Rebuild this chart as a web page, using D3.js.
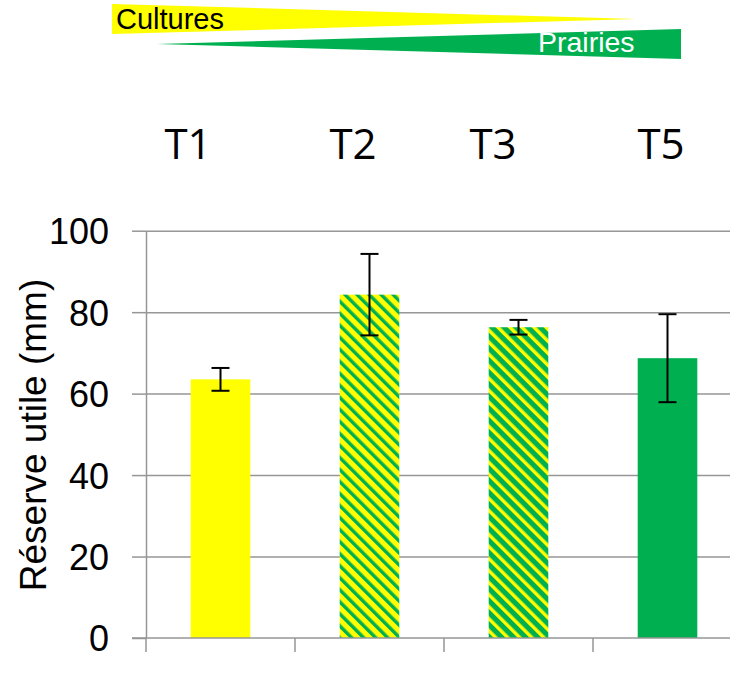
<!DOCTYPE html>
<html lang="fr">
<head>
    <meta charset="UTF-8">
    <title>Réserve utile</title>
    <script src="https://d3js.org/d3.v7.min.js"></script>
</head>
<style>
    body { margin: 0; background: white; }
    text { font-family: "Liberation Sans", Arial, sans-serif; }
</style>
<body>
<svg id="main" width="730" height="675"></svg>
<script>
    // data
    const treatments = ['T1', 'T2', 'T3', 'T5'];
    const reserve = [63.5, 84.3, 76.3, 68.7];
    const errors = [2.8, 10.0, 1.8, 10.8];
    const fills = ['yellow', 'hatchY', 'hatchG', 'green'];
    const yTicks = [0, 20, 40, 60, 80, 100];

    const YELLOW = '#ffff00', GREEN = '#00b050', GRID = '#969696';

    let svg = d3.select('svg#main');
    let plotLeft = 146, plotRight = 742, plotTop = 230.7, plotBottom = 638;

    // hatched fills
    let defs = svg.append('defs');
    function hatch(id, bg, fg, w) {
        let s = 8.5;
        let p = defs.append('pattern')
            .attr('id', id)
            .attr('patternUnits', 'userSpaceOnUse')
            .attr('width', s).attr('height', s)
            .attr('patternTransform', 'rotate(-45)');
        p.append('rect').attr('width', s).attr('height', s).attr('fill', bg);
        p.append('rect').attr('width', w).attr('height', s).attr('fill', fg);
    }
    hatch('hatchY', YELLOW, GREEN, 3.4);
    hatch('hatchG', GREEN, YELLOW, 3.4);

    function fillOf(f) {
        if (f === 'yellow') return YELLOW;
        if (f === 'green') return GREEN;
        return 'url(#' + f + ')';
    }

    // top banner: Cultures -> Prairies
    svg.append('polygon')
        .attr('points', '112,4 112,34 636,19')
        .attr('fill', YELLOW);
    svg.append('polygon')
        .attr('points', '157,44 681,29 681,59')
        .attr('fill', GREEN);
    svg.append('text').text('Cultures')
        .attr('x', 116).attr('y', 29)
        .attr('font-size', 29).attr('fill', 'black');
    svg.append('text').text('Prairies')
        .attr('x', 538).attr('y', 52)
        .attr('font-size', 28.5).attr('fill', 'white');

    // treatment headers
    const headerX = [188, 353, 493, 661];
    svg.selectAll('.head').data(treatments)
        .enter().append('text')
        .attr('class', 'head')
        .attr('x', (d, i) => headerX[i])
        .attr('y', 159)
        .attr('text-anchor', 'middle')
        .style('font-family', '"Open Sans", sans-serif')
        .attr('font-size', 42)
        .text(d => d);

    let x = d3.scaleBand()
        .domain(treatments)
        .range([plotLeft, plotRight])
        .paddingInner(0.6)
        .paddingOuter(0.3);

    let y = d3.scaleLinear()
        .domain([0, 100])
        .range([plotBottom, plotTop]);

    // gridlines
    svg.append('g')
        .attr('transform', 'translate(' + plotLeft + ',0)')
        .call(d3.axisLeft(y).tickValues(yTicks.slice(1)).tickSize(-(plotRight - plotLeft)).tickFormat(''))
        .call(g => g.select('.domain').remove())
        .call(g => g.selectAll('line').attr('stroke', GRID).attr('stroke-width', 1.5));

    // y axis
    svg.append('g')
        .attr('transform', 'translate(' + plotLeft + ',0)')
        .call(d3.axisLeft(y).tickValues(yTicks).tickSize(14).tickPadding(23).tickSizeOuter(0))
        .call(g => g.select('.domain').attr('stroke', GRID).attr('stroke-width', 1.5))
        .call(g => g.selectAll('line').attr('stroke', GRID).attr('stroke-width', 1.5))
        .call(g => g.selectAll('text')
            .attr('font-size', 36)
            .attr('fill', 'black')
            .style('font-family', '"Liberation Sans", Arial, sans-serif')
            .attr('dy', '0.36em'));

    svg.append('text')
        .text('Réserve utile (mm)')
        .attr('transform', 'translate(46,435) rotate(-90)')
        .attr('text-anchor', 'middle')
        .attr('font-size', 37);

    // bars
    svg.selectAll('.bar').data(reserve)
        .enter().append('rect')
        .attr('class', 'bar')
        .attr('x', (d, i) => x(treatments[i]))
        .attr('width', x.bandwidth())
        .attr('y', d => y(d))
        .attr('height', d => y(0) - y(d))
        .attr('fill', (d, i) => fillOf(fills[i]));

    // x axis: baseline and ticks between categories
    let bounds = treatments.map(t => x(t) - x.step() * x.paddingInner() / 2);
    bounds[0] = plotLeft;
    svg.append('line')
        .attr('x1', plotLeft - 14).attr('x2', plotRight)
        .attr('y1', y(0)).attr('y2', y(0))
        .attr('stroke', GRID).attr('stroke-width', 1.5);
    svg.selectAll('.xtick').data(bounds)
        .enter().append('line')
        .attr('class', 'xtick')
        .attr('x1', d => d).attr('x2', d => d)
        .attr('y1', y(0)).attr('y2', y(0) + 14)
        .attr('stroke', GRID).attr('stroke-width', 1.5);

    // error bars
    let err = svg.selectAll('.err').data(reserve)
        .enter().append('g')
        .attr('class', 'err')
        .attr('transform', (d, i) => 'translate(' + (x(treatments[i]) + x.bandwidth() / 2) + ',0)');
    err.append('line')
        .attr('y1', (d, i) => y(d + errors[i]))
        .attr('y2', (d, i) => y(d - errors[i]));
    err.append('line')
        .attr('x1', -9).attr('x2', 9)
        .attr('y1', (d, i) => y(d + errors[i]))
        .attr('y2', (d, i) => y(d + errors[i]));
    err.append('line')
        .attr('x1', -9).attr('x2', 9)
        .attr('y1', (d, i) => y(d - errors[i]))
        .attr('y2', (d, i) => y(d - errors[i]));
    err.selectAll('line').attr('stroke', 'black').attr('stroke-width', 2);
</script>
</body>
</html>
